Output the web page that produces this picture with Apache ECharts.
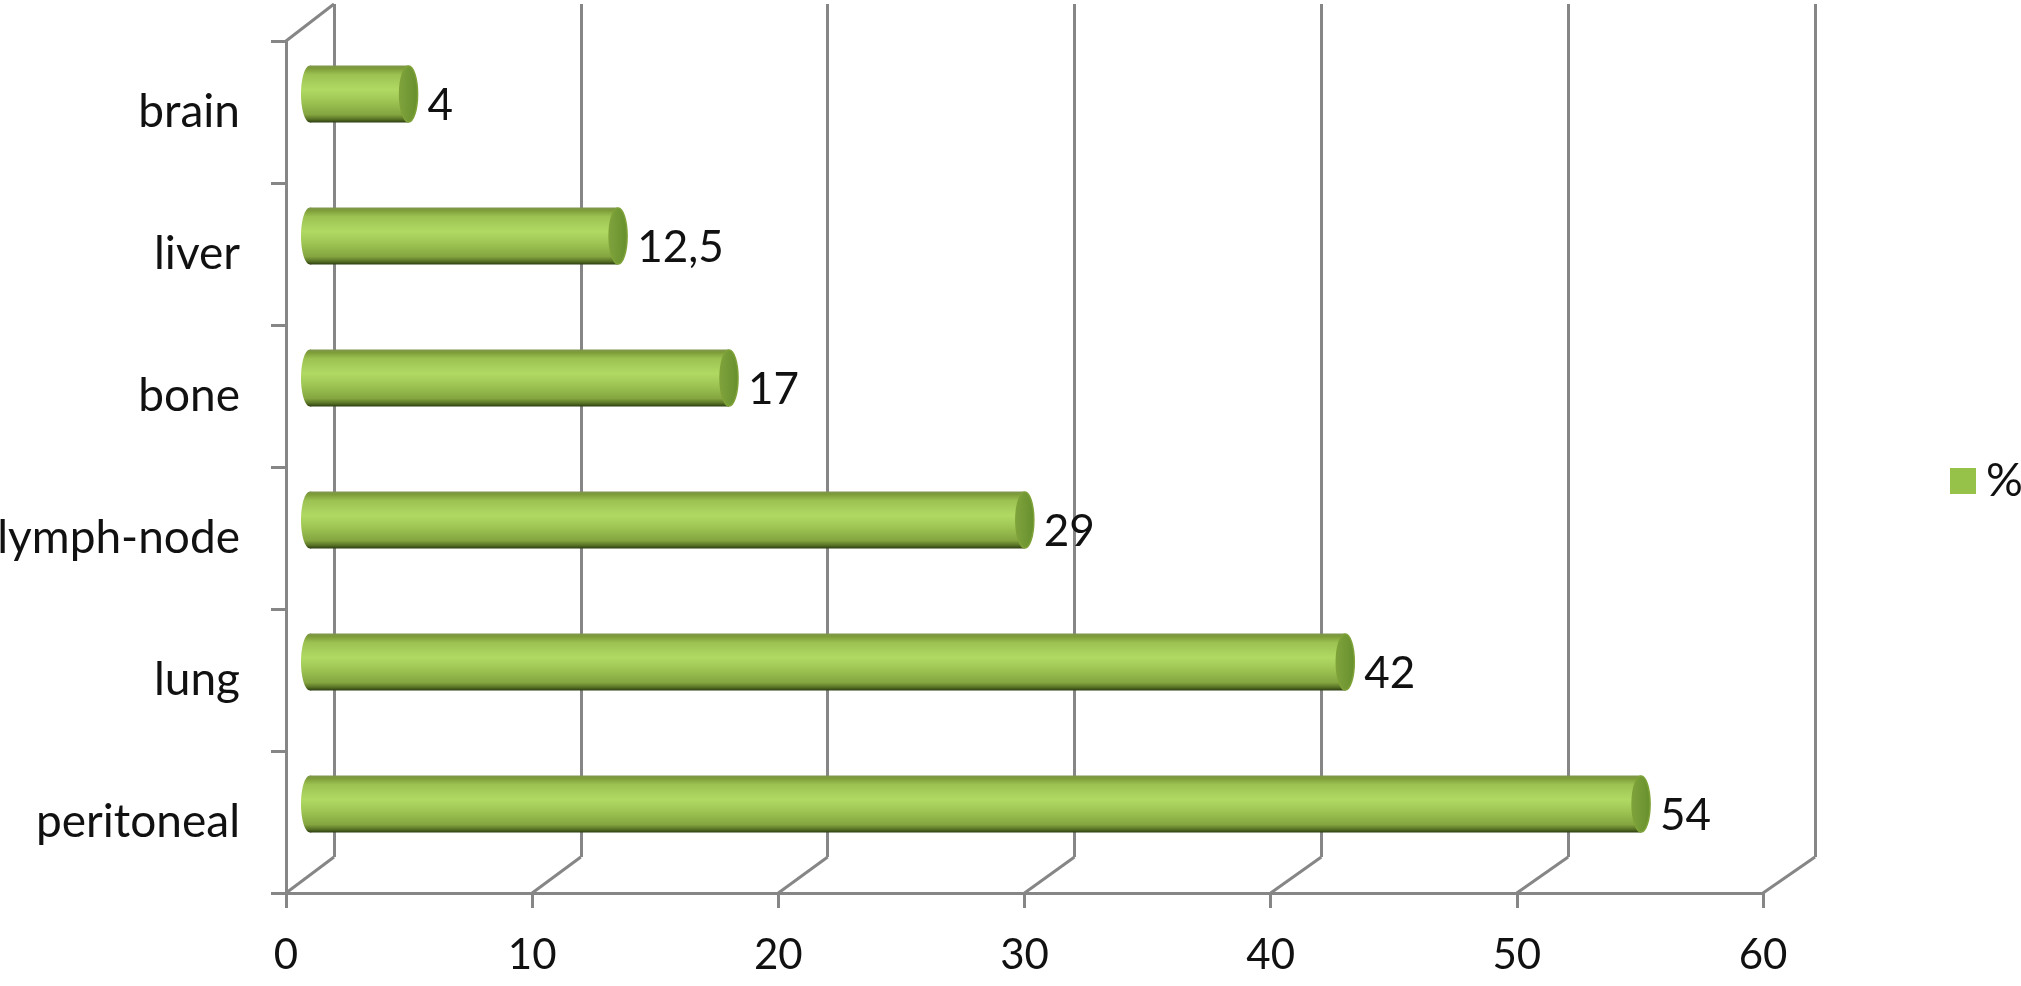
<!DOCTYPE html>
<html>
<head>
<meta charset="utf-8">
<style>html,body{margin:0;padding:0;background:#fff}#c{width:2021px;height:986px}</style>
<script src="https://cdn.jsdelivr.net/npm/echarts@6/dist/echarts.min.js"></script>
</head>
<body>
<div id="c"></div>
<script>
const categories = ['brain', 'liver', 'bone', 'lymph-node', 'lung', 'peritoneal'];
const values = [4, 12.5, 17, 29, 42, 54];
const xTicks = [0, 10, 20, 30, 40, 50, 60];
const seriesName = '%';

const FONT = 'Lato';
const TXT = '#111';
const LINE = '#868686';
const front = {left: 286, top: 41, width: 1477, height: 852};
const back = {left: 334, top: 4, width: 1481, height: 853};
const mid = {left: 310, top: 23, width: 1479, height: 852};

const chart = echarts.init(document.getElementById('c'), null, {renderer: 'canvas'});
const bodyFill = {type: 'linear', x: 0, y: 0, x2: 0, y2: 1, colorStops: [
  {offset: 0, color: '#7f9650'}, {offset: 0.05, color: '#7d9c38'}, {offset: 0.16, color: '#9cc252'},
  {offset: 0.42, color: '#b0d963'}, {offset: 0.62, color: '#9fc654'}, {offset: 0.86, color: '#84a540'},
  {offset: 0.94, color: '#5a7526'}, {offset: 1, color: '#2c3d10'}]};

function hiddenAxes(g) {
  return {
    gridIndex: g, min: 0, max: 60, interval: 10, type: 'value',
    axisLine: {show: false}, axisTick: {show: false}, axisLabel: {show: false}
  };
}

chart.setOption({
  animation: false,
  backgroundColor: '#fff',
  textStyle: {fontFamily: FONT},
  legend: {
    data: [seriesName], left: 1950, top: 458, itemWidth: 26, itemHeight: 26, itemGap: 0,
    icon: 'rect', padding: 0,
    itemStyle: {color: '#96c24a', borderWidth: 0},
    textStyle: {fontFamily: FONT, fontSize: 46, color: TXT, padding: [0, 0, 0, 5]}
  },
  grid: [
    Object.assign({}, front, {containLabel: false, outerBoundsMode: 'none'}),
    Object.assign({}, back, {containLabel: false, outerBoundsMode: 'none'}),
    Object.assign({}, mid, {containLabel: false, outerBoundsMode: 'none'})
  ],
  xAxis: [
    {
      gridIndex: 0, type: 'value', position: 'bottom', min: 0, max: 60, interval: 10,
      axisLine: {show: true, onZero: false, lineStyle: {color: LINE, width: 3}},
      axisTick: {show: true, length: 15, lineStyle: {color: LINE, width: 3}},
      axisLabel: {show: true, fontFamily: FONT, fontSize: 42, color: TXT, margin: 41},
      splitLine: {show: false}
    },
    Object.assign(hiddenAxes(1), {splitLine: {show: true, lineStyle: {color: LINE, width: 3}}}),
    Object.assign(hiddenAxes(2), {splitLine: {show: false}})
  ],
  yAxis: [
    {
      gridIndex: 0, type: 'category', data: categories, inverse: true,
      axisLine: {show: true, onZero: false, lineStyle: {color: LINE, width: 3}},
      axisTick: {show: true, length: 15, alignWithLabel: false, lineStyle: {color: LINE, width: 3}},
      axisLabel: {show: true, fontFamily: FONT, fontSize: 46, color: TXT, margin: 46, padding: [4, 0, 0, 0]},
      splitLine: {show: false}
    },
    {gridIndex: 1, type: 'category', data: categories, inverse: true, show: false},
    {gridIndex: 2, type: 'category', data: categories, inverse: true, show: false}
  ],
  series: [
    {
      type: 'custom', xAxisIndex: 0, yAxisIndex: 0, silent: true, z: 1, clip: false,
      encode: {x: 0},
      data: xTicks.map(v => [v]),
      renderItem(params, api) {
        const v = api.value(0);
        const fx = api.coord([v, 0])[0];
        const bx = back.left + v / 60 * back.width;
        const ls = {stroke: LINE, lineWidth: 3, fill: null};
        const fy = front.top + front.height, by = back.top + back.height;
        const kids = [{type: 'line', shape: {x1: fx, y1: fy, x2: bx, y2: by}, style: ls}];
        if (v === 0) {
          kids.push({type: 'line', shape: {x1: front.left, y1: front.top, x2: back.left, y2: back.top}, style: ls});
        }
        return {type: 'group', children: kids};
      }
    },
    {
      type: 'custom', xAxisIndex: 2, yAxisIndex: 2, silent: true, z: 3, clip: false,
      encode: {x: 0, y: 1},
      data: values.map((v, i) => [0, i]),
      renderItem(params, api) {
        const p = api.coord([0, api.value(1)]);
        return {type: 'ellipse', shape: {cx: p[0], cy: p[1], rx: 9, ry: 28.5}, style: {fill: bodyFill}};
      }
    },
    {
      type: 'bar', name: seriesName, data: values, xAxisIndex: 2, yAxisIndex: 2, z: 4,
      barWidth: 57,
      itemStyle: {color: bodyFill},
      label: {
        show: true, position: 'right', distance: 19, offset: [0, 12],
        fontFamily: FONT, fontSize: 44, color: TXT,
        formatter: p => String(p.value).replace('.', ',')
      }
    },
    {
      type: 'custom', xAxisIndex: 2, yAxisIndex: 2, silent: true, z: 5, clip: false,
      encode: {x: 0, y: 1},
      data: values.map((v, i) => [v, i]),
      renderItem(params, api) {
        const p = api.coord([api.value(0), api.value(1)]);
        return {
          type: 'ellipse',
          shape: {cx: p[0], cy: p[1], rx: 9, ry: 28},
          style: {
            fill: {type: 'linear', x: 0, y: 0, x2: 1, y2: 0, colorStops: [
              {offset: 0, color: '#7fa33e'}, {offset: 1, color: '#668f2c'}]},
            stroke: '#7fa238', lineWidth: 1.5
          }
        };
      }
    }
  ]
});
</script>
</body>
</html>
